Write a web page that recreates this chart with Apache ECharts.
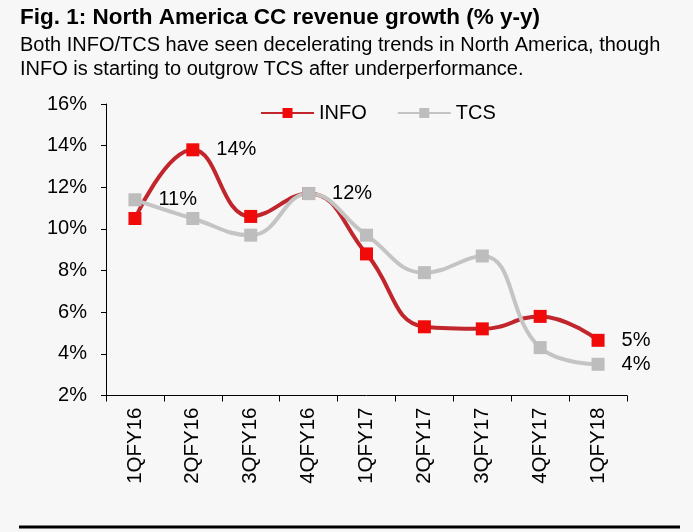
<!DOCTYPE html>
<html>
<head>
<meta charset="utf-8">
<script src="https://cdn.jsdelivr.net/npm/echarts@6/dist/echarts.min.js"></script>
<style>
html,body{margin:0;padding:0;background:#f7f7f7;}
#c{width:693px;height:532px;}
</style>
</head>
<body>
<div id="c"></div>
<script>
const categories = ['1QFY16','2QFY16','3QFY16','4QFY16','1QFY17','2QFY17','3QFY17','4QFY17','1QFY18'];
const infoValues = [10.5, 13.8, 10.6, 11.7, 8.8, 5.3, 5.2, 5.8, 4.65];
const tcsValues  = [11.4, 10.5, 9.7, 11.7, 9.7, 7.9, 8.7, 4.3, 3.5];
const infoLabelIdx = [1, 3, 8];
const tcsLabelIdx = [0, 8];
const yTicks = [2, 4, 6, 8, 10, 12, 14, 16];

const FONT = '"Liberation Sans", Arial, Helvetica, sans-serif';

function buildData(values, labelIdx) {
  return values.map((v, i) => ({
    value: v,
    label: { show: labelIdx.indexOf(i) >= 0 }
  }));
}

const chart = echarts.init(document.getElementById('c'));
chart.setOption({
  backgroundColor: '#f7f7f7',
  animation: false,
  textStyle: { fontFamily: FONT },
  title: {
    text: 'Fig. 1: North America CC revenue growth (% y-y)',
    subtext: 'Both INFO/TCS have seen decelerating trends in North America, though\nINFO is starting to outgrow TCS after underperformance.',
    left: 15,
    top: 0,
    itemGap: 4,
    textStyle: { fontFamily: FONT, fontSize: 22.5, fontWeight: 'bold', color: '#000', lineHeight: 25 },
    subtextStyle: { fontFamily: FONT, fontSize: 20, color: '#000', lineHeight: 23.5 }
  },
  legend: {
    left: 255,
    top: 98,
    itemWidth: 53,
    itemHeight: 12.5,
    itemGap: 30,
    textStyle: { fontFamily: FONT, fontSize: 20, color: '#000' },
    data: ['INFO', 'TCS']
  },
  grid: { left: 106, right: 66, top: 104, bottom: 136.5 },
  xAxis: {
    type: 'category',
    data: categories,
    boundaryGap: true,
    axisLine: { lineStyle: { color: '#000', width: 1 } },
    axisTick: { show: true, length: 6, lineStyle: { color: '#000' } },
    axisLabel: { rotate: 90, margin: 12, fontSize: 20.5, color: '#000', fontFamily: FONT }
  },
  yAxis: {
    type: 'value',
    min: yTicks[0],
    max: yTicks[yTicks.length - 1],
    interval: 2,
    axisLine: { show: true, lineStyle: { color: '#000', width: 1 } },
    axisTick: { show: true, length: 5, lineStyle: { color: '#000' } },
    splitLine: { show: false },
    axisLabel: { formatter: '{value}%', margin: 19, fontSize: 20, color: '#000', fontFamily: FONT }
  },
  series: [
    {
      name: 'INFO',
      type: 'line',
      smooth: 0.45,
      data: buildData(infoValues, infoLabelIdx),
      symbol: 'rect',
      symbolSize: 13,
      lineStyle: { color: '#c0262b', width: 4 },
      itemStyle: { color: '#f00a0a' },
      label: {
        position: 'right',
        distance: 17,
        fontSize: 20,
        color: '#000',
        fontFamily: FONT,
        formatter: p => Math.round(p.value) + '%'
      }
    },
    {
      name: 'TCS',
      type: 'line',
      smooth: 0.45,
      data: buildData(tcsValues, tcsLabelIdx),
      symbol: 'rect',
      symbolSize: 13,
      lineStyle: { color: '#c4c4c4', width: 4 },
      itemStyle: { color: '#bdbdbd' },
      label: {
        position: 'right',
        distance: 17,
        fontSize: 20,
        color: '#000',
        fontFamily: FONT,
        formatter: p => Math.round(p.value) + '%'
      }
    }
  ],
  graphic: [
    {
      type: 'line',
      shape: { x1: 19, y1: 527, x2: 680, y2: 527 },
      style: { stroke: '#000', lineWidth: 3 }
    }
  ]
});
</script>
</body>
</html>
